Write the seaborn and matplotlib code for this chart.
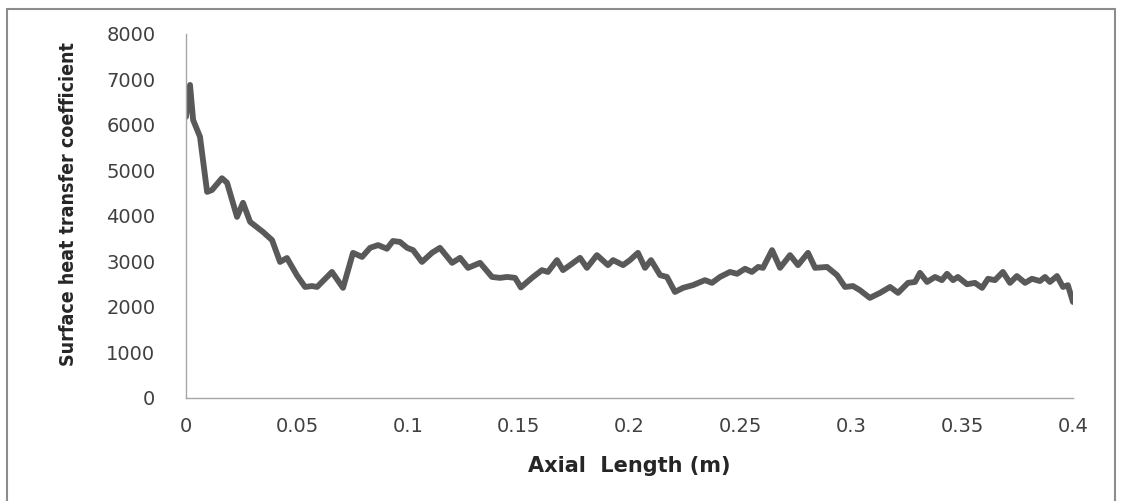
import pandas as pd
import matplotlib.pyplot as plt
import seaborn as sns

# valores (posição axial em m, coeficiente)
axial_m = [0.0, 0.0018, 0.0032, 0.0063, 0.0095, 0.0117, 0.0162, 0.0185, 0.0230, 0.0257,
           0.0289, 0.0347, 0.0388, 0.0424, 0.0455, 0.0501, 0.0537, 0.0568, 0.0591, 0.0658,
           0.0708, 0.0753, 0.0794, 0.0830, 0.0866, 0.0906, 0.0933, 0.0965, 0.0997, 0.1024,
           0.1064, 0.1109, 0.1145, 0.1200, 0.1236, 0.1272, 0.1326, 0.1380, 0.1416, 0.1448,
           0.1484, 0.1510, 0.1560, 0.1605, 0.1632, 0.1673, 0.1700, 0.1732, 0.1777, 0.1808,
           0.1853, 0.1903, 0.1926, 0.1971, 0.2002, 0.2038, 0.2070, 0.2097, 0.2138, 0.2169,
           0.2205, 0.2241, 0.2286, 0.2340, 0.2372, 0.2408, 0.2453, 0.2485, 0.2521, 0.2552,
           0.2580, 0.2602, 0.2643, 0.2679, 0.2724, 0.2760, 0.2805, 0.2837, 0.2891, 0.2936,
           0.2972, 0.3008, 0.3039, 0.3084, 0.3130, 0.3175, 0.3211, 0.3256, 0.3288, 0.3310,
           0.3342, 0.3378, 0.3409, 0.3432, 0.3459, 0.3481, 0.3522, 0.3558, 0.3590, 0.3617,
           0.3648, 0.3684, 0.3716, 0.3747, 0.3784, 0.3815, 0.3851, 0.3874, 0.3896, 0.3928,
           0.3955, 0.3977, 0.4000]
coef_h = [6180, 6880, 6110, 5740, 4530, 4570, 4830, 4730, 3980, 4290,
          3870, 3650, 3470, 2990, 3077, 2690, 2440, 2460, 2440, 2770,
          2420, 3190, 3100, 3300, 3360, 3280, 3450, 3430, 3300, 3250,
          2990, 3190, 3300, 2970, 3080, 2860, 2970, 2660, 2640, 2660,
          2640, 2430, 2640, 2810, 2770, 3030, 2810, 2920, 3080, 2860,
          3140, 2920, 3030, 2920, 3030, 3190, 2860, 3030, 2700, 2660,
          2330, 2420, 2480, 2590, 2530, 2660, 2770, 2730, 2840, 2770,
          2880, 2860, 3250, 2860, 3140, 2920, 3190, 2860, 2880, 2700,
          2440, 2460, 2370, 2200, 2310, 2440, 2310, 2530, 2550, 2750,
          2550, 2660, 2590, 2730, 2590, 2660, 2500, 2530, 2420, 2620,
          2590, 2770, 2530, 2680, 2530, 2620, 2570, 2660, 2550, 2680,
          2440, 2480, 2110]

xticks = [0, 0.05, 0.1, 0.15, 0.2, 0.25, 0.3, 0.35, 0.4]
xtick_labels = ['0', '0.05', '0.1', '0.15', '0.2', '0.25', '0.3', '0.35', '0.4']
yticks = [0, 1000, 2000, 3000, 4000, 5000, 6000, 7000, 8000]

df = pd.DataFrame({'axial': axial_m, 'h': coef_h})

sns.set_style('white')
plt.rcParams['font.family'] = ['DejaVu Sans']

fig = plt.figure(figsize=(11.22, 5.01), dpi=100)
ax = fig.add_axes([0.1658, 0.2056, 0.7905, 0.7266])

sns.lineplot(data=df, x='axial', y='h', ax=ax, color='#595959', linewidth=4.2,
             solid_joinstyle='round', solid_capstyle='round')

ax.set_xlim(0, 0.4)
ax.set_ylim(0, 8000)
ax.set_xticks(xticks)
ax.set_xticklabels(xtick_labels)
ax.set_yticks(yticks)

for s in ['top', 'right']:
    ax.spines[s].set_visible(False)
for s in ['left', 'bottom']:
    ax.spines[s].set_color('#a6a6a6')
    ax.spines[s].set_linewidth(1.0)

ax.tick_params(axis='both', direction='out', colors='#a6a6a6', labelcolor='#404040',
               labelsize=14, width=1.0)
ax.tick_params(axis='y', length=8, pad=14)
ax.tick_params(axis='x', length=6, pad=8)

ax.set_xlabel('Axial  Length (m)', fontsize=15, fontweight='bold', color='#262626',
              labelpad=14)
ax.set_ylabel('Surface heat transfer coefficient', fontsize=14, fontweight='bold',
              fontstretch='condensed', color='#262626')
ax.yaxis.set_label_coords(-0.122, 0.533)

# moldura cinza da área do gráfico
fig.add_artist(plt.Line2D([7 / 1122, 7 / 1122], [0, 1 - 9 / 501], transform=fig.transFigure,
                          color='#8c8c8c', linewidth=1.5))
fig.add_artist(plt.Line2D([7 / 1122, 1115 / 1122], [1 - 9 / 501, 1 - 9 / 501],
                          transform=fig.transFigure, color='#8c8c8c', linewidth=1.5))
fig.add_artist(plt.Line2D([1115 / 1122, 1115 / 1122], [0, 1 - 9 / 501], transform=fig.transFigure,
                          color='#8c8c8c', linewidth=1.5))

plt.savefig('out.png', dpi=100)
